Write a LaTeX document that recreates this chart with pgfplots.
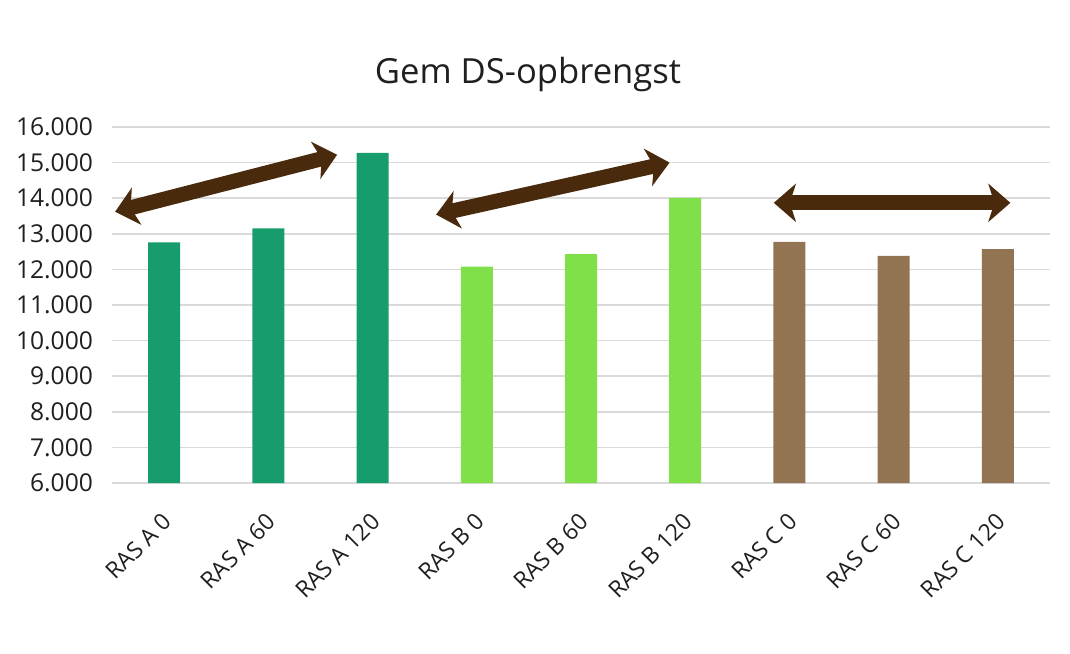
\documentclass[border=0pt]{standalone}
\usepackage{pgfplots}
\pgfplotsset{compat=1.18}
\usepackage{fontspec}
\setmainfont{Open Sans}
\usetikzlibrary{arrows.meta}
\definecolor{cA}{HTML}{179C6C}
\definecolor{cB}{HTML}{7FE04A}
\definecolor{cC}{HTML}{937452}
\definecolor{arr}{HTML}{4A2A0C}
\definecolor{gridc}{HTML}{DADADA}
\definecolor{txt}{HTML}{1F1F1F}
\begin{document}
\begin{tikzpicture}
\path[use as bounding box] (-56pt,-85pt) rectangle (479pt,241.5pt);
\begin{axis}[
  at={(0,0)}, anchor=south west,
  scale only axis, width=469pt, height=178pt,
  ybar, bar width=16pt,
  xmin=-0.5, xmax=8.5, ymin=6000, ymax=16000,
  ytick={6000,7000,...,16000},
  scaled y ticks=false,
  xtick={0,...,8},
  xticklabels={RAS A 0,RAS A 60,RAS A 120,RAS B 0,RAS B 60,RAS B 120,RAS C 0,RAS C 60,RAS C 120},
  axis line style={draw=none},
  major tick length=0pt,
  ymajorgrids, grid style={gridc, line width=0.8pt},
  yticklabel={\pgfmathprintnumber[fixed, precision=0, 1000 sep={.}, assume math mode=true]{\tick}},
  yticklabel style={font=\fontsize{12.3}{14}\selectfont, text=txt, xshift=-6pt},
  xticklabel style={font=\fontsize{11.5}{13}\selectfont, text=txt, rotate=45, anchor=north east, inner sep=1pt, xshift=-10pt, yshift=-8pt},
  every axis plot/.append style={draw=none, bar shift=0pt},
]
\addplot[fill=cA] coordinates {(0,12760) (1,13150) (2,15270)};
\addplot[fill=cB] coordinates {(3,12080) (4,12430) (5,14010)};
\addplot[fill=cC] coordinates {(6,12770) (7,12380) (8,12570)};
\draw[arr, line width=7.5pt, {Stealth[length=11pt,width=19pt,inset=3pt]}-{Stealth[length=11pt,width=19pt,inset=3pt]}] (axis cs:-0.47,13620) -- (axis cs:1.66,15220);
\draw[arr, line width=7.5pt, {Stealth[length=11pt,width=19pt,inset=3pt]}-{Stealth[length=11pt,width=19pt,inset=3pt]}] (axis cs:2.61,13540) -- (axis cs:4.85,15000);
\draw[arr, line width=7.5pt, {Stealth[length=11pt,width=19pt,inset=3pt]}-{Stealth[length=11pt,width=19pt,inset=3pt]}] (axis cs:5.85,13870) -- (axis cs:8.12,13870);
\end{axis}
\node[text=txt, font=\fontsize{17.3}{20}\selectfont] at (208pt,204pt) {Gem DS-opbrengst};
\end{tikzpicture}
\end{document}
